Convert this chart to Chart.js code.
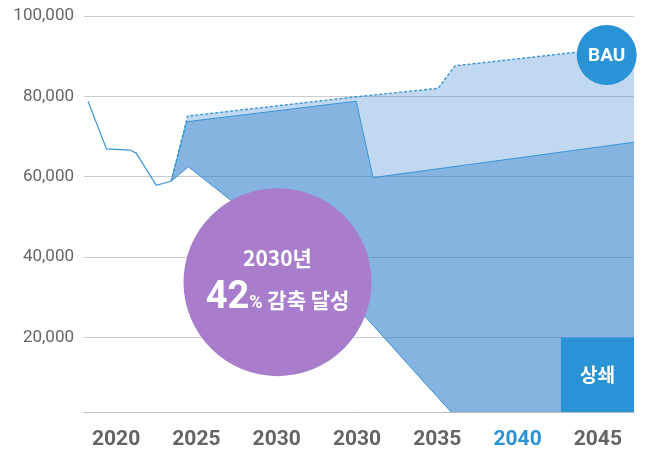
<!DOCTYPE html>
<html>
<head>
<meta charset="utf-8">
<title>온실가스 감축 경로</title>
<script src="https://cdn.jsdelivr.net/npm/chart.js"></script>
<style>
  html, body { margin: 0; padding: 0; background: #fff; }
  #wrap { width: 646px; height: 453px; }
</style>
</head>
<body>

<div id="wrap"><canvas id="pathChart"></canvas></div>

<script>
  // x axis labels (2030 shows up twice on the axis)
  const yearLabels = ['2020', '2025', '2030', '2030', '2035', '2040', '2045'];
  const yTicks = [20000, 40000, 60000, 80000, 100000];

  // x values are in label units: 0 = first label, 1 = second label ...
  const historyX = [-0.35, -0.12, 0.17, 0.25, 0.50, 0.685];
  const historyY = [78800, 66950, 66650, 65900, 57900, 58900];

  // business-as-usual outlook (dashed)
  const bauX = [0.685, 0.89, 2.99, 4.01, 4.22, 6.45];
  const bauY = [58900, 75100, 79900, 82000, 87600, 92600];

  // emissions path before offsets
  const targetX = [0.685, 0.88, 2.99, 3.20, 6.45];
  const targetY = [58900, 73700, 78800, 59800, 68600];

  // net emissions after offsets
  const netX = [0.685, 0.90, 1.44, 3.10, 3.76, 4.24, 6.45];
  const netY = [58900, 62500, 54000, 25300, 10600, 0, 0];

  const toPoints = (xs, ys) => xs.map((x, i) => ({ x: x, y: ys[i] }));

  const lineBlue = '#3a97d7';
  const badgeBlue = '#2a93d5';
  const numFont = 'Roboto, "Noto Sans CJK KR", sans-serif';
  const krFont = '"Noto Sans CJK KR", Roboto, sans-serif';

  // circles and box drawn on top of the plot
  const overlay = {
    id: 'overlay',
    afterDatasetsDraw(chart) {
      const { ctx, chartArea, scales: { x, y } } = chart;
      ctx.save();

      // 상쇄 box
      const bx = x.getPixelForValue(5.54);
      const by = y.getPixelForValue(20000);
      ctx.fillStyle = badgeBlue;
      ctx.fillRect(bx, by, chartArea.right - bx, chartArea.bottom - by);
      ctx.fillStyle = '#fff';
      ctx.font = 'bold 19px ' + krFont;
      ctx.textAlign = 'center';
      ctx.textBaseline = 'middle';
      ctx.fillText('상쇄', (bx + chartArea.right) / 2, (by + chartArea.bottom) / 2);

      // BAU badge
      const ux = x.getPixelForValue(6.11);
      const uy = y.getPixelForValue(90300);
      ctx.beginPath();
      ctx.arc(ux, uy, 30, 0, Math.PI * 2);
      ctx.fillStyle = badgeBlue;
      ctx.fill();
      ctx.fillStyle = '#fff';
      ctx.font = 'bold 19px ' + numFont;
      ctx.fillText('BAU', ux, uy + 1);

      // 2030 target bubble
      const cx = x.getPixelForValue(2.01);
      const cy = y.getPixelForValue(33800);
      ctx.beginPath();
      ctx.arc(cx, cy, 94, 0, Math.PI * 2);
      ctx.fillStyle = '#a87dcb';
      ctx.fill();

      ctx.fillStyle = '#fff';
      ctx.font = 'bold 21px ' + krFont;
      ctx.fillText('2030년', cx, cy - 24);

      const parts = [
        { t: '42', f: 'bold 38px ' + numFont },
        { t: '%', f: 'bold 18px ' + numFont },
        { t: ' 감축 달성', f: 'bold 21px ' + krFont }
      ];
      let total = 0;
      parts.forEach(p => { ctx.font = p.f; p.w = ctx.measureText(p.t).width; total += p.w; });
      let px = cx - total / 2;
      ctx.textAlign = 'left';
      ctx.textBaseline = 'alphabetic';
      parts.forEach(p => {
        ctx.font = p.f;
        ctx.fillText(p.t, px, cy + 26);
        px += p.w;
      });

      ctx.restore();
    }
  };

  const ctx = document.getElementById('pathChart').getContext('2d');
  const pathChart = new Chart(ctx, {
    type: 'line',
    data: {
      datasets: [
        {
          label: 'history',
          data: toPoints(historyX, historyY),
          borderColor: lineBlue,
          borderWidth: 1.2,
          fill: false
        },
        {
          label: 'BAU',
          data: toPoints(bauX, bauY),
          borderColor: lineBlue,
          borderWidth: 1.4,
          borderDash: [3, 2],
          backgroundColor: 'rgba(52, 130, 205, 0.31)',
          fill: 2
        },
        {
          label: 'target',
          data: toPoints(targetX, targetY),
          borderColor: lineBlue,
          borderWidth: 1,
          backgroundColor: 'rgba(52, 130, 205, 0.6)',
          fill: 3
        },
        {
          label: 'net',
          data: toPoints(netX, netY),
          borderColor: lineBlue,
          borderWidth: 1,
          fill: false
        }
      ]
    },
    options: {
      responsive: true,
      maintainAspectRatio: false,
      animation: false,
      devicePixelRatio: 1,
      layout: { padding: { left: 0, right: 12, top: 16, bottom: 0 } },
      elements: {
        point: { radius: 0, hoverRadius: 0 },
        line: { tension: 0 }
      },
      plugins: {
        legend: { display: false },
        tooltip: { enabled: false }
      },
      scales: {
        x: {
          type: 'linear',
          min: -0.4,
          max: 6.45,
          afterBuildTicks: scale => { scale.ticks = yearLabels.map((_, i) => ({ value: i })); },
          afterFit: scale => {
            scale.height = 41;
            scale.paddingLeft = 0;
            scale.paddingRight = 0;
          },
          grid: { display: false, drawTicks: false },
          border: { display: true, color: '#bdbdbd', width: 1 },
          ticks: {
            padding: 15,
            autoSkip: false,
            maxRotation: 0,
            font: { family: numFont, size: 21, weight: 'bold' },
            color: c => (c.tick && c.tick.value === 5 ? badgeBlue : '#646464'),
            callback: v => yearLabels[v]
          }
        },
        y: {
          min: 1500,
          max: 100000,
          afterBuildTicks: scale => { scale.ticks = yTicks.map(v => ({ value: v })); },
          afterFit: scale => {
            scale.width = 84;
            scale.paddingTop = 0;
            scale.paddingBottom = 0;
          },
          grid: { color: '#cccccc', lineWidth: 1, drawTicks: false },
          border: { display: false },
          ticks: {
            padding: 10,
            font: { family: numFont, size: 17 },
            color: '#666666',
            callback: v => v.toLocaleString('en-US')
          }
        }
      }
    },
    plugins: [overlay]
  });
</script>

</body>
</html>
